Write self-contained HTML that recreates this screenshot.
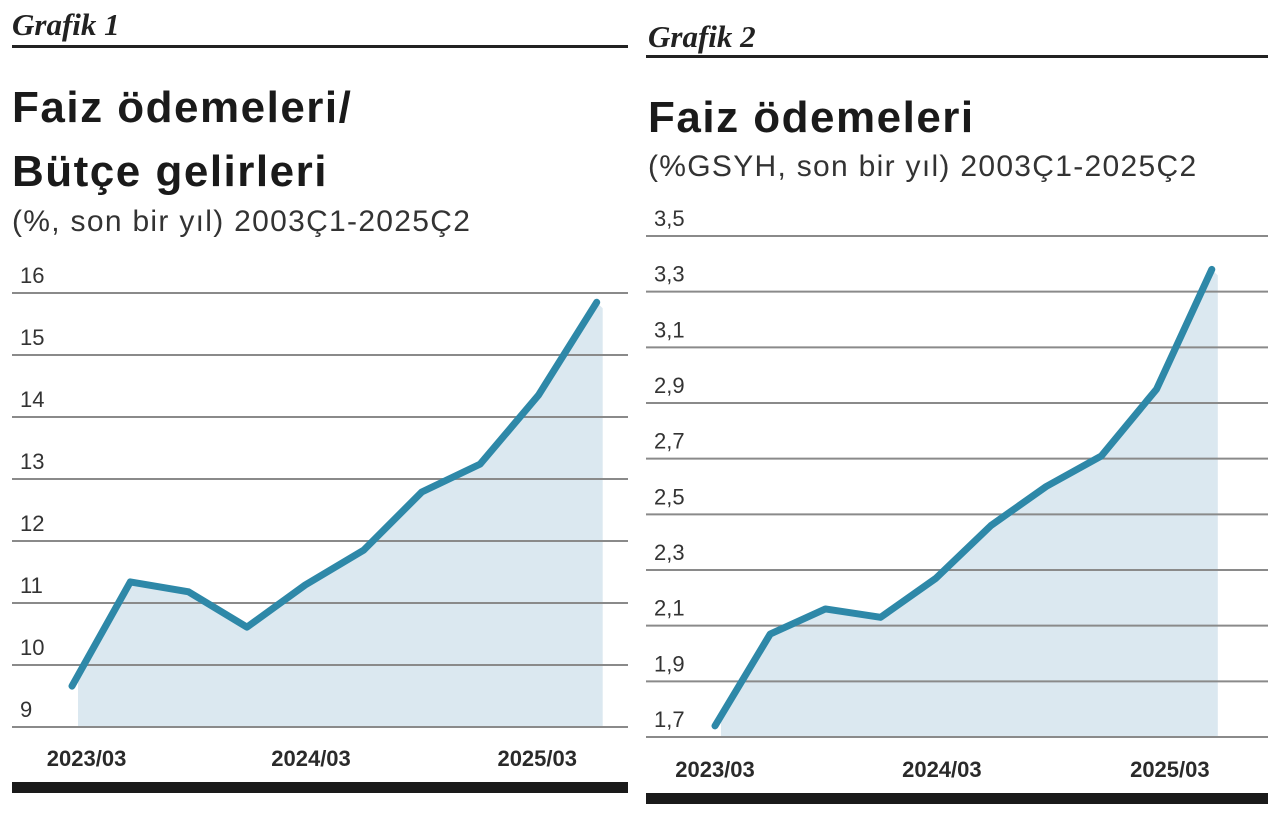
<!DOCTYPE html>
<html><head><meta charset="utf-8"><style>
html,body{margin:0;padding:0;background:#fff;width:1280px;height:814px;overflow:hidden}
svg{display:block}
.gr{font-family:"Liberation Serif",serif;font-style:italic;font-weight:bold;font-size:31px;fill:#222}
.tt{font-family:"Liberation Sans",sans-serif;font-weight:bold;font-size:44px;letter-spacing:1.5px;fill:#1a1a1a}
.st{font-family:"Liberation Sans Narrow","Liberation Sans",sans-serif;font-size:30px;letter-spacing:1.3px;fill:#333}
.tk{font-family:"Liberation Sans Narrow","Liberation Sans",sans-serif;font-size:22px;fill:#333}
.xl{font-family:"Liberation Sans Narrow","Liberation Sans",sans-serif;font-size:22px;font-weight:bold;fill:#2a2a2a}
</style></head><body>
<svg id="s" width="1280" height="814" viewBox="0 0 1280 814" xmlns="http://www.w3.org/2000/svg">
<text class="gr" x="12" y="35">Grafik 1</text>
<rect x="12" y="45" width="616" height="3" fill="#222"/>
<text class="tt" x="12" y="122">Faiz ödemeleri/</text>
<text class="tt" x="12" y="186">Bütçe gelirleri</text>
<text class="st" x="12" y="231">(%, son bir yıl) 2003Ç1-2025Ç2</text>
<rect x="12" y="782" width="616" height="11" fill="#1a1a1a"/>

<text class="gr" x="648" y="47">Grafik 2</text>
<rect x="646" y="55" width="622" height="3" fill="#222"/>
<text class="tt" x="648" y="132">Faiz ödemeleri</text>
<text class="st" x="648" y="176">(%GSYH, son bir yıl) 2003Ç1-2025Ç2</text>
<rect x="646" y="793" width="622" height="11" fill="#1a1a1a"/>
<g id="c1"></g>
<g id="c2"></g>
</svg>
<script>
const c1Values = [9.66, 11.34, 11.18, 10.61, 11.29, 11.85, 12.79, 13.24, 14.35, 15.85];
const c1Ticks = [9, 10, 11, 12, 13, 14, 15, 16];
const c1TickLabels = ["9","10","11","12","13","14","15","16"];
const c2Values = [1.74, 2.07, 2.16, 2.13, 2.27, 2.46, 2.60, 2.71, 2.95, 3.38];
const c2Ticks = [1.7, 1.9, 2.1, 2.3, 2.5, 2.7, 2.9, 3.1, 3.3, 3.5];
const c2TickLabels = ["1,7","1,9","2,1","2,3","2,5","2,7","2,9","3,1","3,3","3,5"];
const xLabels = ["2023/03","2024/03","2025/03"];
const c1XLabelIdx = [0.25, 4.1, 7.98];
const c2XLabelIdx = [0, 4.11, 8.24];

const NS = "http://www.w3.org/2000/svg";
function mk(tag, attrs, parent){const e=document.createElementNS(NS,tag);for(const k in attrs)e.setAttribute(k,attrs[k]);parent.appendChild(e);return e;}

function draw(g, cfg, values, ticks, tickLabels, xIdx, prefix){
  const y = v => cfg.y0 - (v - cfg.vmin) / (cfg.vmax - cfg.vmin) * (cfg.y0 - cfg.y1);
  const x = i => cfg.xs + i * cfg.dx;
  const n = values.length - 1;
  let d = "M" + x(0) + "," + y(values[0]);
  values.forEach((v,i)=>{ if(i) d += " L" + x(i) + "," + y(v); });
  const fd = "M" + (x(0)+6) + "," + (y(values[0]) - 10) + " " + d.replace(/^M[^L]*/, "") +
    " L" + (x(n)+6) + "," + (y(values[n]) + 6) + " L" + (x(n)+6) + "," + cfg.y0 + " L" + (x(0)+6) + "," + cfg.y0 + " Z";
  const fill = mk("path", {d: fd, fill:"#dbe8f0"}, g);
  
  
  ticks.forEach((t,i)=>{
    const ln = mk("line", {x1:cfg.gx0, x2:cfg.gx1, y1:y(t), y2:y(t), stroke:"#8a8a8a", "stroke-width":2}, g);
    
    
    const tx = mk("text", {x:cfg.gx0 + 8, y:y(t) - 10, class:"tk"}, g);
    tx.textContent = tickLabels[i];
    
    
  });
  const line = mk("path", {d:d, fill:"none", stroke:"#2e88a8", "stroke-width":7, "stroke-linejoin":"round", "stroke-linecap":"round"}, g);
  
  
  xLabels.forEach((l,i)=>{
    const tx = mk("text", {x:x(xIdx[i]), y:cfg.xly, class:"xl", "text-anchor":"middle"}, g);
    tx.textContent = l;
    
    
  });
}
draw(document.getElementById("c1"), {vmin:9, vmax:16, y0:727, y1:293, xs:72, dx:58.3, gx0:12, gx1:628, xly:766}, c1Values, c1Ticks, c1TickLabels, c1XLabelIdx, "chart1");
draw(document.getElementById("c2"), {vmin:1.7, vmax:3.5, y0:737, y1:236, xs:715, dx:55.2, gx0:646, gx1:1268, xly:777}, c2Values, c2Ticks, c2TickLabels, c2XLabelIdx, "chart2");
</script>
</body></html>
